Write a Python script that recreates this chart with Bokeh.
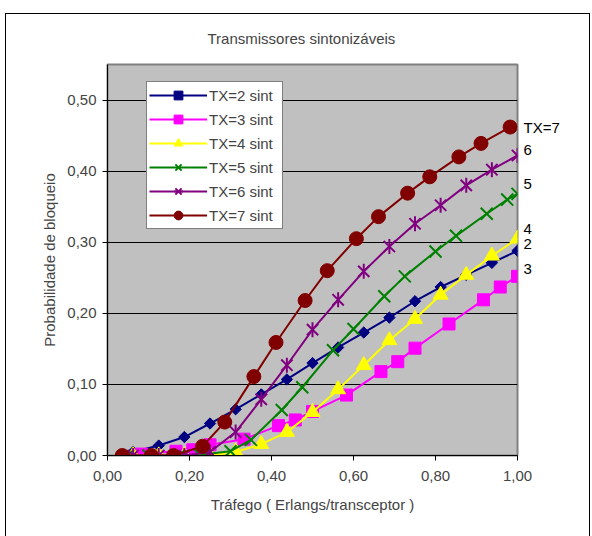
import numpy as np
from bokeh.plotting import figure
from bokeh.models import (Range1d, FixedTicker, CustomJSTickFormatter, Legend,
                          LegendItem, LinearAxis, Title)
from bokeh.embed import file_html
from bokeh.resources import INLINE

# ---------------- data ----------------
title_text = "Transmissores sintonizáveis"
x_label = "Tráfego ( Erlangs/transceptor )"
y_label = "Probabilidade de bloqueio"
x_ticks = [0.0, 0.2, 0.4, 0.6, 0.8, 1.0]
y_ticks = [0.0, 0.1, 0.2, 0.3, 0.4, 0.5]

tx2_x = [0.0625, 0.125, 0.1875, 0.25, 0.3125, 0.375, 0.4375, 0.5, 0.5625, 0.625,
         0.6875, 0.75, 0.8125, 0.875, 0.9375, 1.0]
tx2_y = [0.005, 0.014, 0.026, 0.045, 0.065, 0.086, 0.107, 0.13, 0.152, 0.173,
         0.194, 0.217, 0.237, 0.254, 0.271, 0.288]

tx3_x = [0.083, 0.167, 0.208, 0.25, 0.333, 0.417, 0.458, 0.5, 0.583, 0.667,
         0.708, 0.75, 0.833, 0.917, 0.958, 1.0]
tx3_y = [0.002, 0.006, 0.008, 0.015, 0.023, 0.042, 0.05, 0.062, 0.085, 0.118,
         0.132, 0.151, 0.185, 0.219, 0.237, 0.252]

tx4_x = [0.0625, 0.125, 0.1875, 0.25, 0.3125, 0.375, 0.4375, 0.5, 0.5625, 0.625,
         0.6875, 0.75, 0.8125, 0.875, 0.9375, 1.0]
tx4_y = [0.0, 0.0, 0.0, 0.0, 0.005, 0.016, 0.033, 0.061, 0.093, 0.127,
         0.162, 0.192, 0.226, 0.254, 0.281, 0.305]

tx5_x = [0.05, 0.1, 0.175, 0.225, 0.3, 0.35, 0.425, 0.475, 0.55, 0.6,
         0.675, 0.725, 0.8, 0.85, 0.925, 0.975, 1.0]
tx5_y = [0.0, 0.0, 0.0, 0.001, 0.006, 0.022, 0.064, 0.096, 0.148, 0.178,
         0.224, 0.252, 0.287, 0.309, 0.34, 0.36, 0.368]

tx6_x = [0.0625, 0.125, 0.1875, 0.25, 0.3125, 0.375, 0.4375, 0.5, 0.5625, 0.625,
         0.6875, 0.75, 0.8125, 0.875, 0.9375, 1.0]
tx6_y = [0.0, 0.0, 0.0, 0.005, 0.033, 0.079, 0.127, 0.177, 0.219, 0.259,
         0.294, 0.326, 0.352, 0.38, 0.402, 0.422]

tx7_x = [0.036, 0.107, 0.161, 0.232, 0.286, 0.357, 0.411, 0.482, 0.536, 0.607,
         0.661, 0.732, 0.786, 0.857, 0.911, 0.982]
tx7_y = [0.0, 0.0, 0.0, 0.013, 0.047, 0.111, 0.159, 0.218, 0.26, 0.305,
         0.336, 0.369, 0.392, 0.42, 0.439, 0.462]

legend_labels = ["TX=2 sint", "TX=3 sint", "TX=4 sint", "TX=5 sint", "TX=6 sint", "TX=7 sint"]
end_labels = ["2", "3", "4", "5", "6", "TX=7"]

# ---------------- layout ----------------
FONT = "Liberation Sans"
FS = "15px"
W, H = 592, 536
L, R, T, B = 107, 75, 64, 81
X0, X1, Y0, Y1 = 0.0, 1.0, 0.0, 0.55
FW, FH = W - L - R, H - T - B
PX_Y = (Y1 - Y0) / FH  # data units per pixel (vertical)

p = figure(width=W, height=H, output_backend="svg", toolbar_location=None,
           x_range=Range1d(X0, X1), y_range=Range1d(Y0, Y1), title=title_text,
           min_border_left=L, min_border_right=R, min_border_top=T, min_border_bottom=B)
p.background_fill_color = "#C0C0C0"
p.border_fill_color = None
p.outline_line_color = "#808080"
p.outline_line_width = 2

# outer chart border drawn behind the (transparent) canvas
p.styles = {
    "background-color": "white",
    "background-image": ("linear-gradient(#000,#000), linear-gradient(#000,#000), "
                         "linear-gradient(#000,#000)"),
    "background-position": "5px 13px, 5px 13px, 589px 13px",
    "background-size": "1px 600px, 585px 1px, 1px 600px",
    "background-repeat": "no-repeat",
}

p.title.align = "left"
p.title.offset = 100
p.title.text_font = FONT
p.title.text_font_size = FS
p.title.text_font_style = "normal"
# empty spacer between title and plot area (lifts the title)
p.add_layout(Title(text=" ", text_font_size="1px"), "above")

fmt = CustomJSTickFormatter(code="return tick.toFixed(2).replace('.', ',');")
for ax, ticks, lab in ((p.xaxis[0], x_ticks, x_label), (p.yaxis[0], y_ticks, y_label)):
    ax.ticker = FixedTicker(ticks=ticks)
    ax.formatter = fmt
    ax.axis_label = lab
    ax.axis_label_text_font = FONT
    ax.axis_label_text_font_size = FS
    ax.axis_label_text_font_style = "normal"
    ax.major_label_text_font = FONT
    ax.major_label_text_font_size = FS
    ax.axis_line_color = "black"
    ax.axis_line_width = 1
    ax.major_tick_line_color = "black"
    ax.major_tick_out = 5
    ax.major_tick_in = 0
    ax.minor_tick_line_color = None
p.xaxis.major_label_standoff = 10
p.xaxis.axis_label_standoff = 12
p.yaxis.major_label_standoff = 6
p.yaxis.axis_label_standoff = 6

p.xgrid.grid_line_color = None
p.ygrid.ticker = FixedTicker(ticks=y_ticks)
p.ygrid.grid_line_color = "black"
p.ygrid.grid_line_width = 1

series = [
    (tx2_x, tx2_y, "#000080", "diamond"),
    (tx3_x, tx3_y, "#FF00FF", "square"),
    (tx4_x, tx4_y, "#FFFF00", "triangle"),
    (tx5_x, tx5_y, "#008000", "x"),
    (tx6_x, tx6_y, "#800080", "star"),
    (tx7_x, tx7_y, "#800000", "circle"),
]

items = []
for (xs, ys, col, mk), lab in zip(series, legend_labels):
    rs = [p.line(xs, ys, line_color=col, line_width=2)]
    if mk == "diamond":
        rs.append(p.scatter(xs, ys, marker="square", angle=np.pi / 4, size=8,
                            fill_color=col, line_color=col))
    elif mk == "square":
        rs.append(p.scatter(xs, ys, marker="square", size=12, fill_color=col, line_color=col))
    elif mk == "triangle":
        rs.append(p.scatter(xs, ys, marker="triangle", size=15, fill_color=col, line_color=col))
    elif mk == "x":
        rs.append(p.scatter(xs, ys, marker="x", size=17, line_color=col, line_width=2))
    elif mk == "star":
        rs.append(p.scatter(xs, ys, marker="x", size=16, line_color=col, line_width=2))
        rs.append(p.scatter(xs, ys, marker="dash", angle=np.pi / 2, size=15,
                            line_color=col, line_width=2))
    else:
        rs.append(p.scatter(xs, ys, marker="circle", size=14, fill_color=col, line_color=col))
    items.append(LegendItem(label=lab, renderers=rs))

legend = Legend(items=items, location=(146 - L, H - B - 229))
legend.label_text_font = FONT
legend.label_text_font_size = FS
legend.border_line_color = "black"
legend.border_line_width = 1
legend.background_fill_color = "white"
legend.background_fill_alpha = 1
legend.glyph_width = 58
legend.glyph_height = 22
legend.label_height = 22
legend.label_width = 71
legend.spacing = 2
legend.padding = 2
legend.label_standoff = 2
legend.margin = 0
p.add_layout(legend, "center")

# end-of-series labels as a right-hand axis placed at each series' last value
offsets_px = [7, 8, 10, 10, 6, 0]
end_pos = [s[1][-1] + off * PX_Y for s, off in zip(series, offsets_px)]
end_axis = LinearAxis(ticker=FixedTicker(ticks=end_pos),
                      formatter=CustomJSTickFormatter(
                          args=dict(pos=end_pos, txt=end_labels),
                          code="""
let best = 0;
for (let i = 0; i < pos.length; i++) {
  if (Math.abs(pos[i] - tick) < Math.abs(pos[best] - tick)) best = i;
}
return txt[best];"""))
end_axis.axis_line_color = None
end_axis.major_tick_line_color = None
end_axis.minor_tick_line_color = None
end_axis.major_tick_out = 0
end_axis.major_tick_in = 0
end_axis.major_label_standoff = 6
end_axis.major_label_text_font = FONT
end_axis.major_label_text_font_size = FS
end_axis.major_label_text_color = "black"
p.add_layout(end_axis, "right")

open("out.html", "w").write(file_html(p, INLINE))
